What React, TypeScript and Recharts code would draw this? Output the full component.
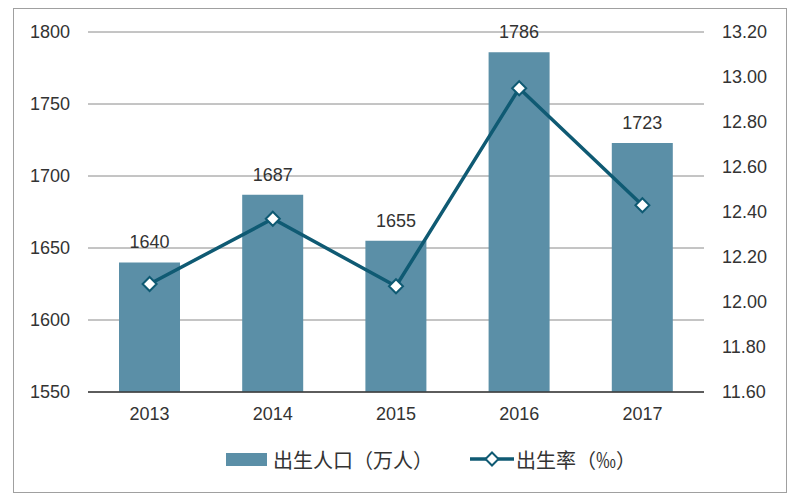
import React from 'react';
import { ComposedChart, Bar, Line, XAxis, YAxis, CartesianGrid, Legend, LabelList } from 'recharts';

const years = ['2013', '2014', '2015', '2016', '2017'];
const births = [1640, 1687, 1655, 1786, 1723];
const birthRate = [12.08, 12.37, 12.07, 12.95, 12.43];
const leftTicks = [1550, 1600, 1650, 1700, 1750, 1800];
const rightTicks = [11.6, 11.8, 12.0, 12.2, 12.4, 12.6, 12.8, 13.0, 13.2];
const barName = '出生人口（万人）';
const lineName = '出生率（‰）';

const BAR_COLOR = '#5B8FA7';
const LINE_COLOR = '#0F5A73';
const TEXT_COLOR = '#333333';
const FONT = '"Liberation Sans", Arial, sans-serif';
const CJK_FONT = '"Noto Sans CJK SC", "Liberation Sans", sans-serif';

const data = years.map((y, i) => ({ year: y, births: births[i], rate: birthRate[i] }));

const Diamond = (props: any) => {
  const { cx, cy } = props;
  if (cx == null || cy == null) return null;
  const r = 7;
  return (
    <path
      d={`M${cx},${cy - r} L${cx + r},${cy} L${cx},${cy + r} L${cx - r},${cy} Z`}
      fill="#ffffff"
      stroke={LINE_COLOR}
      strokeWidth={2}
    />
  );
};

const LegendContent = () => (
  <div
    style={{
      display: 'flex',
      justifyContent: 'flex-start',
      alignItems: 'center',
      height: 30,
      paddingLeft: 226,
      fontFamily: CJK_FONT,
      fontSize: 20,
      color: TEXT_COLOR,
      boxSizing: 'border-box',
    }}
  >
    <div style={{ display: 'flex', alignItems: 'center', marginRight: 37 }}>
      <span style={{ display: 'inline-block', width: 41, height: 13, background: BAR_COLOR, marginRight: 6 }} />
      <span>{barName}</span>
    </div>
    <div style={{ display: 'flex', alignItems: 'center' }}>
      <svg width={44} height={16} style={{ marginRight: 2 }}>
        <line x1={0} y1={8} x2={44} y2={8} stroke={LINE_COLOR} strokeWidth={3.5} />
        <path d="M22,1.5 L28.5,8 L22,14.5 L15.5,8 Z" fill="#fff" stroke={LINE_COLOR} strokeWidth={2} />
      </svg>
      <span>{lineName}</span>
    </div>
  </div>
);

export default function App() {
  return (
    <div style={{ position: 'absolute', left: 0, top: 0, width: 800, height: 500, background: '#fff' }}>
      <div
        style={{
          position: 'absolute',
          left: 13,
          top: 8,
          width: 774,
          height: 485,
          border: '1px solid #a0a0a0',
          boxSizing: 'border-box',
        }}
      />
      <ComposedChart
        width={800}
        height={500}
        data={data}
        margin={{ top: 32, right: 0, bottom: 26, left: 0 }}
        style={{ position: 'absolute', left: 0, top: 0 }}
      >
        <CartesianGrid yAxisId="left" vertical={false} stroke="#8a8a8a" strokeWidth={1} />
        <XAxis
          dataKey="year"
          height={52}
          tickLine={false}
          tickSize={0}
          tickMargin={15}
          axisLine={{ stroke: '#3a3a3a', strokeWidth: 1.5 }}
          tick={{ fill: TEXT_COLOR, fontSize: 18, fontFamily: FONT }}
        />
        <YAxis
          yAxisId="left"
          orientation="left"
          width={88}
          domain={[1550, 1800]}
          ticks={leftTicks}
          interval={0}
          axisLine={false}
          tickLine={false}
          tickSize={0}
          tickMargin={18}
          tick={{ fill: TEXT_COLOR, fontSize: 18, fontFamily: FONT }}
        />
        <YAxis
          yAxisId="right"
          orientation="right"
          width={96}
          domain={[11.6, 13.2]}
          ticks={rightTicks}
          interval={0}
          axisLine={false}
          tickLine={false}
          tickSize={0}
          tickMargin={18}
          tickFormatter={(v: number) => v.toFixed(2)}
          tick={{ fill: TEXT_COLOR, fontSize: 18, fontFamily: FONT, textAnchor: 'start' }}
        />
        <Legend
          verticalAlign="bottom"
          align="left"
          height={30}
          wrapperStyle={{ left: 0, width: 800 }}
          content={<LegendContent />}
        />
        <Bar yAxisId="left" dataKey="births" name={barName} fill={BAR_COLOR} barSize={61} isAnimationActive={false}>
          <LabelList
            dataKey="births"
            position="top"
            offset={14}
            style={{ fill: TEXT_COLOR, fontSize: 18, fontFamily: FONT }}
          />
        </Bar>
        <Line
          yAxisId="right"
          type="linear"
          dataKey="rate"
          name={lineName}
          stroke={LINE_COLOR}
          strokeWidth={3.5}
          dot={<Diamond />}
          activeDot={false}
          isAnimationActive={false}
        />
      </ComposedChart>
    </div>
  );
}
